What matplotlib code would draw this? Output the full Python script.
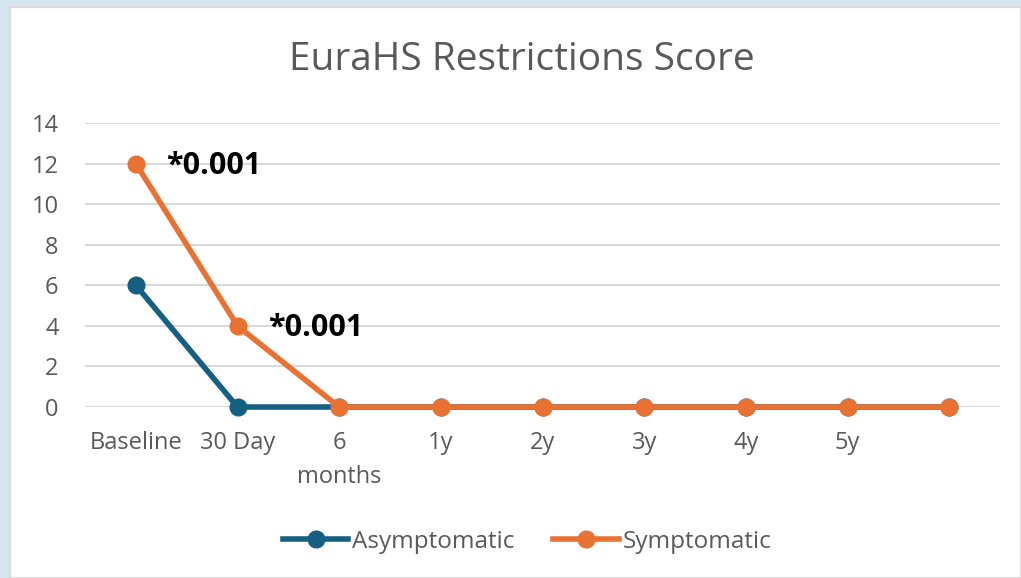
import matplotlib
matplotlib.use("Agg")
import matplotlib.pyplot as plt
from matplotlib.patches import Rectangle

categories = ["Baseline", "30 Day", "6\nmonths", "1y", "2y", "3y", "4y", "5y", ""]
asymptomatic = [6, 0, 0, 0, 0, 0, 0, 0, 0]
symptomatic = [12, 4, 0, 0, 0, 0, 0, 0, 0]
annotations = [(0, 12, "*0.001"), (1, 4, "*0.001")]

color_asym = "#156082"
color_sym = "#E97132"
text_gray = "#595959"

plt.rcParams["font.family"] = ["Open Sans", "DejaVu Sans"]

fig = plt.figure(figsize=(10.21, 5.78), dpi=100, facecolor="#D6E6EF")
# white chart area with a thin grey edge
fig.patches.append(Rectangle((10/1021, 0), 1 - 10/1021, 1 - 7/578, transform=fig.transFigure,
                             facecolor="white", edgecolor="#D9D9D9", linewidth=1.5, zorder=-10))

ax = fig.add_axes([85/1021, 1 - 407/578, 915/1021, (407 - 123)/578])
ax.set_facecolor("none")

x = list(range(len(categories)))
ax.plot(x, asymptomatic, color=color_asym, lw=4, marker="o", ms=12, label="Asymptomatic",
        zorder=3, clip_on=False)
ax.plot(x, symptomatic, color=color_sym, lw=4, marker="o", ms=12, label="Symptomatic",
        zorder=4, clip_on=False)

for xi, yi, txt in annotations:
    ax.annotate(txt, (xi, yi), xytext=(22, 1), textcoords="offset points", ha="left",
                va="center_baseline", fontsize=22, fontweight="bold", color="black")

ax.set_xlim(-0.5, len(categories) - 0.5)
ax.set_ylim(0, 14)
ax.set_yticks(range(0, 15, 2))
ax.set_xticks(x)
ax.set_xticklabels(categories, linespacing=1.6)
ax.tick_params(axis="both", length=0, labelsize=17, labelcolor=text_gray)
ax.tick_params(axis="x", pad=17)
ax.tick_params(axis="y", pad=19)
ax.grid(axis="y", color="#D9D9D9", lw=1.5)
ax.set_axisbelow(True)
for s in ax.spines.values():
    s.set_visible(False)

fig.text(522/1021, 1 - 60/578, "EuraHS Restrictions Score", ha="center", va="center",
         fontsize=28, color=text_gray)

fig.legend(loc="center", bbox_to_anchor=(527/1021, 1 - 542/578), ncol=2, frameon=False,
           fontsize=17.5, labelcolor=text_gray, handlelength=2.7, handletextpad=0.15,
           columnspacing=1.6, markerscale=1.0)

fig.savefig("out.png", dpi=100, facecolor=fig.get_facecolor())
